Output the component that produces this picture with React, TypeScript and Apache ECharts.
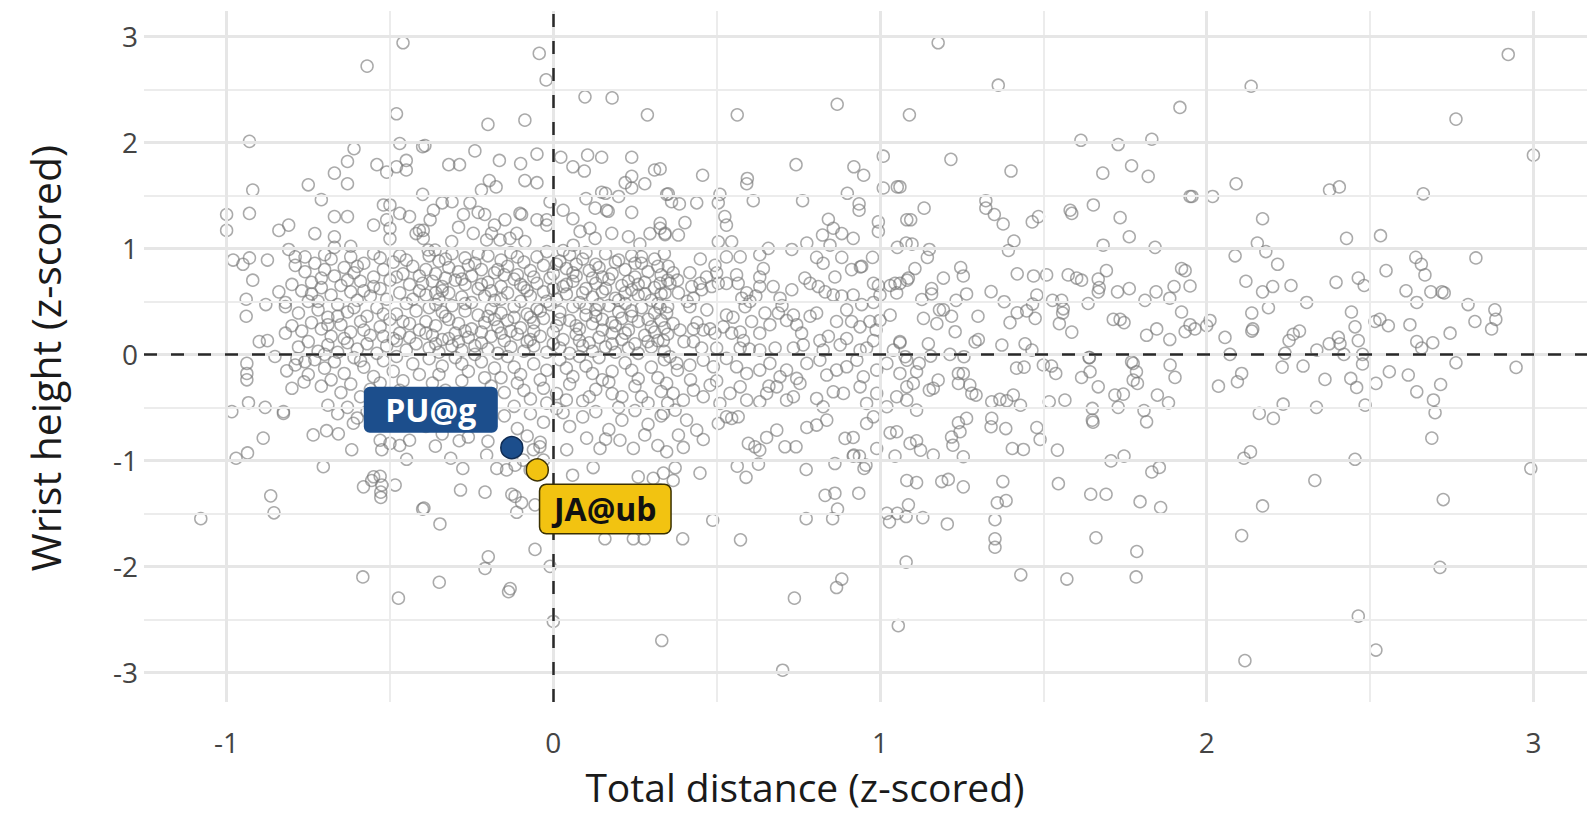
import React, { useEffect, useRef } from "react";
import * as echarts from "echarts";

// ---------- DATA ----------
const xTicks = [-1, 0, 1, 2, 3];
const yTicks = [-3, -2, -1, 0, 1, 2, 3];
const xMinor = [-0.5, 0.5, 1.5, 2.5];
const yMinor = [-2.5, -1.5, -0.5, 0.5, 1.5, 2.5];

const highlightNames = ["PU@g", "JA@ub"];
const highlightX = [-0.127, -0.049];
const highlightY = [-0.88, -1.09];

const upperLeft = [
  [-0.46,2.94],[-0.57,2.72],[-0.48,2.27],[-0.93,2.01],[-0.47,1.99],[-0.40,1.96],[-0.61,1.94],[-0.63,1.82],[-0.54,1.79],[-0.51,1.72],
  [-0.48,1.77],[-0.45,1.83],[-0.45,1.74],[-0.67,1.71],[-0.63,1.61],[-0.75,1.60],[-0.92,1.55],[-0.40,1.51],[-0.71,1.46],[-1.00,1.32],
  [-1.00,1.17],[-0.93,1.33],[-0.67,1.30],[-0.63,1.30],[-0.52,1.41],[-0.50,1.41],[-0.47,1.33],[-0.44,1.30],[-0.84,1.17],[-0.81,1.22],
  [-0.73,1.14],[-0.67,1.11],[-0.55,1.22],[-0.51,1.27],[-0.50,1.19],[-0.50,1.09],[-0.42,1.14],[-0.41,1.17],[-0.81,0.99],[-0.79,0.92],
  [-0.67,1.01],[-0.62,1.02],[-0.98,0.89],[-0.95,0.85],[-0.93,0.91],[-0.875,0.89],[-0.92,0.70],[-0.94,0.52],[-0.94,0.36],[-0.88,0.47],
  [-0.84,0.59],[-0.82,0.49],[-0.82,0.20],[-0.90,0.12],[-0.875,0.13]
];

const upperMid = [
  [-0.043,2.84],[-0.022,2.59],[0.097,2.43],[0.18,2.42],[0.288,2.26],[-0.20,2.17],[-0.087,2.21],[-0.393,1.97],[-0.24,1.92],[-0.32,1.79],
  [-0.287,1.79],[-0.165,1.83],[-0.10,1.80],[-0.05,1.89],[-0.087,1.64],[-0.05,1.62],[-0.196,1.64],[-0.175,1.58],[-0.22,1.55],[0.023,1.86],
  [0.06,1.77],[0.095,1.73],[0.105,1.88],[0.148,1.86],[0.24,1.86],[0.31,1.74],[0.24,1.68],[0.24,1.57],[0.22,1.62],[0.28,1.61],
  [0.10,1.47],[0.148,1.53],[0.16,1.52],[0.20,1.49],[-0.01,1.44],[0.03,1.36],[0.06,1.28],[0.128,1.38],[0.163,1.36],[0.168,1.35],
  [0.24,1.34],[0.347,1.51],[-0.31,1.44],[-0.34,1.43],[-0.367,1.36],[-0.377,1.27],[-0.255,1.43],[-0.23,1.34],[-0.21,1.32],[-0.275,1.32],
  [-0.29,1.20],[-0.102,1.33],[-0.097,1.32],[-0.148,1.27],[-0.18,1.22],[-0.05,1.27],[-0.02,1.27],[-0.02,1.22],[-0.398,1.17],[-0.398,1.095],
  [-0.362,0.985],[-0.383,0.985],[-0.311,1.064],[-0.245,1.142],[-0.204,1.079],[-0.189,1.142],[-0.163,1.079],[-0.133,1.095],[-0.112,1.142],[-0.087,1.064],
  [0.082,1.16],[0.112,1.19],[0.128,1.095],[0.179,1.142],[0.23,1.11],[0.296,1.14],[0.327,1.19],[0.342,1.13],[0.265,1.04],[0.061,1.03]
];

const upperRightMid = [
  [0.563,2.26],[0.869,2.36],[1.09,2.26],[0.743,1.79],[1.01,1.87],[0.92,1.77],[0.95,1.69],[0.457,1.69],[0.594,1.66],[0.592,1.61],
  [0.327,1.75],[0.352,1.515],[0.362,1.44],[0.386,1.42],[0.439,1.43],[0.505,1.43],[0.51,1.51],[0.612,1.45],[0.763,1.45],[0.90,1.52],
  [0.936,1.42],[0.936,1.36],[1.01,1.57],[1.053,1.58],[1.082,1.27],[0.327,1.236],[0.342,1.142],[0.383,1.126],[0.403,1.243],[0.525,1.30],
  [0.53,1.22],[0.505,1.063],[0.546,1.063],[0.572,0.92],[0.842,1.275],[0.857,1.19],[0.883,1.14],[0.918,1.095],[0.824,1.126],[0.847,1.03],
  [0.995,1.25],[0.995,1.16],[1.053,1.01],[1.08,1.05],[0.632,0.94],[0.658,1.0],[0.73,0.99],[0.776,1.05],[0.806,0.915],[0.826,0.86],
  [0.883,0.915],[0.94,0.825],[0.977,0.915],
  [0.352,0.83],[0.367,0.77],[0.327,0.67],[0.357,0.67],[0.342,0.58],[0.383,0.58],[0.418,0.77],[0.424,0.64],[0.429,0.53],[0.449,0.67],
  [0.454,0.61],[0.469,0.73],[0.485,0.64],[0.495,0.84],[0.50,0.77],[0.505,0.67],[0.53,0.67],[0.53,0.92],[0.561,0.75],[0.566,0.67],
  [0.577,0.53],[0.592,0.58],[0.602,0.50],[0.587,0.45],[0.632,0.73],[0.632,0.64],[0.643,0.81],[0.673,0.64],[0.73,0.61],[0.694,0.53],
  [0.77,0.72],[0.786,0.67],[0.811,0.64],[0.832,0.59],[0.862,0.73],[0.857,0.56],[0.883,0.55],[0.913,0.80],[0.944,0.83],[0.918,0.56],
  [0.944,0.47],[0.98,0.67],[0.995,0.65],[1.031,0.65],[1.046,0.67],[1.051,0.58],[1.0,0.56],[0.98,0.49],[1.087,0.72],
  [0.327,0.44],[0.347,0.39],[0.418,0.45],[0.367,0.29],[0.388,0.23],[0.429,0.24],[0.459,0.23],[0.48,0.24],[0.495,0.20],[0.52,0.26],
  [0.53,0.37],[0.546,0.20],[0.572,0.21],[0.582,0.13],[0.607,0.31],[0.632,0.20],[0.648,0.39],[0.663,0.28],[0.689,0.39],[0.714,0.32],
  [0.735,0.37],[0.745,0.28],[0.76,0.20],[0.786,0.36],[0.806,0.39],[0.816,0.13],[0.842,0.17],[0.867,0.31],[0.898,0.42],[0.913,0.31],
  [0.939,0.26],[0.969,0.31],[0.988,0.23],[1.0,0.32],[1.031,0.37],[1.061,0.12],[0.878,0.09],[0.898,0.15],[0.337,0.13],[0.429,0.12],
  [0.454,0.06],[0.50,0.06],[0.572,0.06],[0.632,0.04],[0.679,0.06],[0.735,0.06],[0.765,0.09],[0.826,0.04],[0.939,0.04],[0.98,0.13],
  [0.959,0.06],[1.041,0.04]
];

const upperRight = [
  [1.178,2.94],[1.362,2.54],[1.217,1.84],[1.401,1.73],[1.061,1.58],[1.135,1.38],[1.094,1.27],[1.324,1.45],[1.324,1.38],[1.35,1.32],
  [1.377,1.23],[1.466,1.25],[1.485,1.30],[1.41,1.07],[1.393,0.98],[1.098,1.04],[1.151,0.99],[1.145,0.915],[1.107,0.81],[1.083,0.70],
  [1.061,0.67],[1.247,0.82],[1.255,0.74],[1.194,0.72],[1.158,0.62],[1.158,0.57],[1.128,0.518],[1.133,0.34],[1.174,0.29],[1.182,0.42],
  [1.194,0.42],[1.219,0.36],[1.233,0.51],[1.265,0.57],[1.23,0.214],[1.30,0.36],[1.34,0.592],[1.38,0.497],[1.42,0.76],[1.47,0.74],
  [1.51,0.75],[1.48,0.56],[1.467,0.475],[1.42,0.393],[1.449,0.41],[1.475,0.34],[1.398,0.30],[1.291,0.118],[1.301,0.14],[1.373,0.088],
  [1.444,0.10],[1.465,0.04],[1.148,0.10],[1.061,0.11],[1.214,0.0],[1.528,0.51],[1.556,0.51],[1.561,0.43],[1.559,0.39],[1.549,0.29],
  [1.587,0.21],[1.576,0.75],[1.602,0.72],[1.617,0.70],[1.582,1.36],[1.587,1.33],[1.615,2.02],[1.729,1.98],[1.682,1.71],[1.77,1.78],
  [1.653,1.41],[1.735,1.29],[1.763,1.11],[1.683,1.03],[1.693,0.79],[1.668,0.71],[1.671,0.63],[1.668,0.59],[1.637,0.48],[1.727,0.59],
  [1.763,0.62],[1.714,0.33],[1.735,0.33],[1.747,0.30],[1.64,-0.03],[1.77,-0.07],
  [2.136,2.53],[1.918,2.33],[1.832,2.03],[1.821,1.68],[1.949,1.49],[1.955,1.49],[2.018,1.49],[2.09,1.61],[2.376,1.55],[2.406,1.58],
  [2.171,1.28],[2.428,1.095],[2.532,1.12],[1.842,1.01],[2.155,1.05],[2.181,0.97],[2.217,0.85],[2.087,0.93],[1.923,0.81],[1.934,0.79],
  [1.949,0.645],[1.90,0.64],[1.887,0.53],[1.845,0.59],[1.811,0.51],[2.12,0.69],[2.171,0.59],[2.202,0.64],[2.189,0.44],[2.138,0.39],
  [2.138,0.22],[2.141,0.24],[2.258,0.65],[2.306,0.49],[2.396,0.68],[2.464,0.72],[2.482,0.65],[2.443,0.40],[2.454,0.26],[2.464,0.13],
  [2.515,0.31],[2.556,0.27],[2.549,0.79],[1.923,0.40],[1.949,0.28],[1.964,0.24],[2.0,0.27],[2.01,0.32],[1.934,0.215],[1.847,0.24],
  [1.816,0.18],[1.887,0.14],[2.056,0.16],[2.252,0.13],[2.265,0.19],[2.284,0.22],[2.24,0.01],[2.071,0.0],[2.337,0.04],[2.375,0.10],
  [2.403,0.16],[2.408,0.10],[2.42,0.0],[2.477,0.0],
  [2.923,2.83],[2.763,2.22],[3.0,1.88],[2.663,1.515],[2.64,0.915],[2.657,0.85],[2.668,0.75],[2.824,0.91],[2.61,0.60],[2.643,0.49],
  [2.686,0.59],[2.72,0.59],[2.727,0.58],[2.8,0.47],[2.882,0.42],[2.885,0.33],[2.872,0.24],[2.821,0.31],[2.622,0.28],[2.643,0.12],
  [2.658,0.06],[2.692,0.11],[2.745,0.20],[2.53,0.33]
];

const lowerLeft = [
  [-1.079,-1.55],[-0.865,-1.335],[-0.855,-1.495],[-0.583,-2.10],[-0.474,-2.30],[-0.40,-1.46],[-0.704,-1.06],[-0.581,-1.25],[-0.55,-1.155],[-0.53,-1.15],
  [-0.525,-1.233],[-0.528,-1.30],[-0.528,-1.35],[-0.484,-1.233],[-0.556,-1.19],[-0.449,-0.99],[-0.617,-0.90],[-0.525,-0.90],[-0.971,-0.98],[-0.936,-0.93],
  [-0.888,-0.79],[-0.984,-0.54],[-0.933,-0.456],[-0.882,-0.50],[-0.826,-0.557],[-0.826,-0.54],[-0.735,-0.76],[-0.694,-0.72],[-0.658,-0.75],[-0.612,-0.65],
  [-0.938,-0.085],[-0.938,-0.18],[-0.938,-0.24],[-0.816,-0.155],[-0.763,-0.26],[-0.852,-0.02],[-0.785,-0.04],[-0.76,-0.07],[-0.53,-0.81],[-0.50,-0.84],
  [-0.47,-0.86],[-0.44,-0.81]
];

const lowerMid = [
  [0.0,-2.52],[-0.01,-2.0],[-0.056,-1.84],[-0.199,-1.91],[-0.209,-2.02],[-0.349,-2.15],[-0.132,-2.21],[-0.137,-2.24],[-0.347,-1.60],[-0.396,-1.45],
  [-0.284,-1.28],[-0.209,-1.30],[-0.127,-1.32],[-0.117,-1.34],[-0.112,-1.49],[-0.097,-1.40],[-0.056,-1.42],[0.158,-1.74],[0.245,-1.74],[0.278,-1.74],
  [0.332,-2.70],[-0.361,-0.866],[-0.314,-0.98],[-0.277,-1.077],[-0.288,-0.815],[-0.204,-0.95],[-0.173,-1.077],[-0.143,-1.09],[-0.117,-1.045],[-0.092,-0.998],
  [-0.071,-1.09],[-0.03,-0.998],[-0.041,-0.872],[-0.061,-0.90],[0.059,-1.14],[0.122,-1.068],[0.041,-0.90],[0.102,-0.79],[0.143,-0.887],[0.204,-0.81],
  [0.245,-0.887],[0.26,-1.156],[0.306,-1.17],[0.337,-1.12]
];

const lowerRightMid = [
  [0.702,-2.98],[0.738,-2.30],[0.867,-2.20],[0.883,-2.12],[1.056,-2.56],[0.573,-1.75],[0.488,-1.565],[0.396,-1.74],[0.774,-1.55],[0.855,-1.55],
  [0.87,-1.46],[0.832,-1.33],[0.862,-1.31],[0.935,-1.31],[0.774,-1.086],[0.862,-1.03],[0.951,-1.077],[0.957,-1.045],[0.937,-0.96],[0.918,-0.96],
  [1.021,-1.50],[1.053,-1.50],[1.08,-1.53],[1.029,-1.58],[1.08,-1.96],[1.082,-1.19],[0.449,-1.12],[0.373,-1.07],[0.563,-1.055],[0.59,-1.16],
  [0.628,-1.036],[0.367,-1.19],[0.327,-1.28],
  [0.357,-0.022],[0.378,-0.085],[0.418,-0.101],[0.459,-0.054],[0.49,-0.117],[0.53,-0.038],[0.561,-0.117],[0.592,-0.18],[0.632,-0.148],[0.663,-0.085],
  [0.694,-0.211],[0.714,-0.148],[0.745,-0.227],[0.776,-0.085],[0.816,-0.054],[0.837,-0.195],[0.867,-0.148],[0.898,-0.117],[0.929,-0.054],[0.949,-0.211],
  [0.99,-0.148],[1.021,-0.085],[1.061,-0.18],[1.082,-0.054],
  [0.347,-0.274],[0.367,-0.368],[0.398,-0.432],[0.429,-0.337],[0.459,-0.40],[0.48,-0.29],[0.51,-0.463],[0.541,-0.368],[0.572,-0.306],[0.592,-0.432],
  [0.632,-0.447],[0.653,-0.368],[0.684,-0.306],[0.714,-0.432],[0.735,-0.40],[0.755,-0.274],[0.806,-0.416],[0.826,-0.494],[0.857,-0.353],[0.888,-0.368],
  [0.939,-0.306],[0.959,-0.463],[0.99,-0.368],[1.021,-0.494],[1.051,-0.40],[1.082,-0.306],
  [0.337,-0.557],[0.373,-0.526],[0.408,-0.62],[0.439,-0.715],[0.459,-0.803],[0.383,-0.762],[0.398,-0.878],[0.347,-0.919],[0.505,-0.652],[0.53,-0.589],
  [0.546,-0.604],[0.566,-0.589],[0.597,-0.84],[0.617,-0.872],[0.632,-0.903],[0.653,-0.784],[0.684,-0.715],[0.709,-0.872],[0.743,-0.872],[0.776,-0.69],
  [0.806,-0.667],[0.837,-0.62],[0.893,-0.793],[0.918,-0.784],[0.92,-0.951],[0.959,-0.652],[0.99,-0.888],[1.031,-0.74],[1.051,-0.73],[1.046,-0.96],
  [0.98,-0.589]
];

const lowerRight = [
  [1.431,-2.08],[1.572,-2.12],[1.784,-2.10],[1.786,-1.86],[1.661,-1.73],[1.352,-1.56],[1.352,-1.74],[1.352,-1.82],[1.206,-1.60],[1.131,-1.54],
  [1.087,-1.42],[1.359,-1.40],[1.386,-1.38],[1.376,-1.20],[1.255,-1.25],[1.189,-1.20],[1.209,-1.18],[1.112,-1.21],[1.546,-1.22],[1.645,-1.32],
  [1.692,-1.32],[1.796,-1.39],[1.405,-0.888],[1.439,-0.897],[1.543,-0.903],[1.49,-0.803],[1.48,-0.69],[1.385,-0.70],[1.34,-0.683],[1.342,-0.604],
  [1.265,-0.604],[1.24,-0.645],[1.245,-0.73],[1.219,-0.78],[1.223,-0.857],[1.255,-0.966],[1.163,-0.95],[1.124,-0.903],[1.092,-0.84],[1.112,-0.815],
  [1.707,-1.005],[1.747,-0.96],[1.65,-0.51],[1.65,-0.62],[1.652,-0.64],[1.729,-0.50],[1.719,-0.384],[1.745,-0.375],[1.808,-0.53],[1.816,-0.636],
  [1.775,-0.085],[1.785,-0.164],[1.788,-0.274],[1.775,-0.243],[1.668,-0.306],[1.617,-0.218],[1.643,-0.164],[1.641,-0.03],[1.518,-0.447],[1.566,-0.432],
  [1.50,-0.10],[1.525,-0.11],[1.538,-0.18],[1.418,-0.13],[1.441,-0.12],[1.408,-0.384],[1.43,-0.48],[1.367,-0.425],[1.388,-0.438],[1.342,-0.447],
  [1.281,-0.368],[1.294,-0.384],[1.275,-0.29],[1.24,-0.18],[1.255,-0.18],[1.24,-0.274],[1.178,-0.243],[1.163,-0.32],[1.151,-0.337],[1.112,-0.526],
  [1.102,-0.274],[1.112,-0.164],[1.12,-0.085],[1.077,-0.022],[1.082,-0.432],[1.155,-0.016],[1.257,-0.022],
  [2.117,-2.89],[2.464,-2.47],[2.518,-2.79],[2.107,-1.71],[2.171,-1.43],[2.331,-1.19],[2.454,-0.99],[2.114,-0.98],[2.134,-0.92],[1.832,-1.11],
  [1.855,-1.067],[1.859,-1.445],[1.849,-0.384],[1.883,-0.457],[1.888,-0.10],[1.903,-0.217],[2.036,-0.30],[2.094,-0.258],[2.107,-0.18],[2.161,-0.557],
  [2.204,-0.604],[2.234,-0.47],[2.231,-0.12],[2.295,-0.11],[2.336,-0.50],[2.362,-0.236],[2.441,-0.227],[2.459,-0.312],[2.477,-0.091],[2.485,-0.479],
  [2.518,-0.274],[2.559,-0.164],
  [2.992,-1.077],[2.724,-1.37],[2.714,-2.01],[2.689,-0.79],[2.699,-0.55],[2.694,-0.43],[2.716,-0.284],[2.643,-0.353],[2.617,-0.195],[2.763,-0.079],
  [2.947,-0.123]
];

const coreUpperLeft = [
  [-0.79,0.84],[-0.76,0.78],[-0.73,0.86],[-0.7,0.8],[-0.67,0.74],[-0.64,0.82],[-0.61,0.77],[-0.58,0.86],[-0.55,0.73],[-0.52,0.8],
  [-0.49,0.87],[-0.46,0.76],[-0.43,0.83],[-0.41,0.74],[-0.8,0.66],[-0.77,0.6],[-0.74,0.68],[-0.71,0.63],[-0.68,0.56],[-0.65,0.65],
  [-0.62,0.59],[-0.59,0.69],[-0.56,0.55],[-0.53,0.62],[-0.5,0.7],[-0.47,0.58],[-0.44,0.66],[-0.41,0.6],[-0.82,0.45],[-0.78,0.39],
  [-0.75,0.5],[-0.72,0.42],[-0.69,0.35],[-0.66,0.47],[-0.63,0.4],[-0.6,0.51],[-0.57,0.36],[-0.54,0.44],[-0.51,0.52],[-0.48,0.38],
  [-0.45,0.48],[-0.42,0.41],[-0.8,0.27],[-0.77,0.22],[-0.74,0.3],[-0.71,0.24],[-0.68,0.17],[-0.65,0.28],[-0.62,0.21],[-0.59,0.31],
  [-0.56,0.18],[-0.53,0.26],[-0.5,0.33],[-0.47,0.2],[-0.44,0.29],[-0.41,0.23],[-0.78,0.07],[-0.75,0.12],[-0.72,0.03],[-0.69,0.09],
  [-0.66,0.02],[-0.63,0.11],[-0.6,0.05],[-0.57,0.1],[-0.54,0.01],[-0.51,0.08],[-0.48,0.13],[-0.45,0.04],[-0.42,0.1],[-0.76,0.92],
  [-0.7,0.94],[-0.62,0.92],[-0.55,0.95],[-0.47,0.93],[-0.66,0.36],[-0.58,0.6],[-0.49,0.15],[-0.71,0.72]
];

const coreLowerLeft = [
  [-0.73,-0.05],[-0.7,-0.13],[-0.67,-0.07],[-0.64,-0.18],[-0.61,-0.03],[-0.58,-0.12],[-0.55,-0.21],[-0.52,-0.06],[-0.49,-0.16],[-0.46,-0.25],
  [-0.43,-0.09],[-0.41,-0.19],[-0.71,-0.3],[-0.68,-0.24],[-0.65,-0.36],[-0.62,-0.28],[-0.59,-0.4],[-0.56,-0.33],[-0.53,-0.27],[-0.5,-0.42],
  [-0.47,-0.34],[-0.44,-0.46],[-0.41,-0.38],[-0.69,-0.48],[-0.66,-0.56],[-0.63,-0.5],[-0.6,-0.6],[-0.57,-0.54],[-0.47,-0.62],[-0.42,-0.56],
  [-0.39,-0.68],[-0.79,-0.1],[-0.75,-0.19],[-0.8,-0.32]
];

const coreUpperMid = [
  [-0.38,0.93],[-0.35,0.88],[-0.31,0.95],[-0.27,0.91],[-0.24,0.86],[-0.2,0.93],[-0.16,0.89],[-0.13,0.96],[-0.09,0.87],[-0.05,0.92],
  [-0.02,0.97],[0.02,0.88],[0.05,0.94],[0.09,0.9],[0.13,0.85],[0.16,0.95],[0.2,0.89],[0.24,0.93],[0.27,0.86],[0.31,0.9],[0.34,0.95],
  [-0.39,0.8],[-0.36,0.76],[-0.32,0.82],[-0.29,0.78],[-0.25,0.74],[-0.22,0.8],[-0.18,0.77],[-0.14,0.83],[-0.11,0.75],[-0.07,0.79],
  [-0.03,0.84],[0.0,0.76],[0.04,0.81],[0.07,0.74],[0.11,0.79],[0.14,0.82],[0.18,0.76],[0.22,0.8],[0.25,0.73],[0.29,0.78],[0.32,0.83],
  [-0.37,0.69],[-0.34,0.64],[-0.3,0.7],[-0.27,0.66],[-0.23,0.62],[-0.2,0.68],[-0.16,0.64],[-0.12,0.71],[-0.09,0.63],[-0.05,0.67],
  [-0.01,0.72],[0.03,0.64],[0.06,0.69],[0.1,0.62],[0.13,0.67],[0.17,0.71],[0.21,0.65],[0.24,0.61],[0.28,0.68],[0.31,0.63],[0.35,0.7],
  [-0.39,0.56],[-0.35,0.52],[-0.32,0.58],[-0.28,0.54],[-0.25,0.49],[-0.21,0.55],[-0.18,0.51],[-0.14,0.58],[-0.1,0.5],[-0.07,0.55],
  [-0.03,0.59],[0.01,0.52],[0.04,0.57],[0.08,0.49],[0.12,0.54],[0.15,0.59],[0.19,0.53],[0.22,0.48],[0.26,0.56],[0.3,0.51],[0.33,0.57],
  [-0.38,0.44],[-0.34,0.4],[-0.31,0.46],[-0.27,0.41],[-0.23,0.37],[-0.19,0.43],[-0.16,0.39],[-0.12,0.45],[-0.08,0.38],[-0.05,0.43],
  [-0.01,0.47],[0.02,0.4],[0.06,0.45],[0.1,0.37],[0.13,0.42],[0.17,0.46],[0.2,0.4],[0.24,0.36],[0.27,0.44],[0.31,0.39],[0.35,0.45],
  [-0.39,0.31],[-0.36,0.27],[-0.32,0.33],[-0.29,0.29],[-0.25,0.24],[-0.21,0.3],[-0.17,0.26],[-0.14,0.32],[-0.1,0.25],[-0.06,0.3],
  [-0.03,0.34],[0.01,0.27],[0.05,0.32],[0.08,0.24],[0.12,0.29],[0.15,0.33],[0.19,0.27],[0.23,0.23],[0.26,0.31],[0.3,0.26],[0.33,0.32],
  [-0.37,0.18],[-0.34,0.14],[-0.3,0.2],[-0.26,0.16],[-0.22,0.11],[-0.19,0.17],[-0.15,0.13],[-0.11,0.19],[-0.08,0.12],[-0.04,0.17],
  [0.0,0.21],[0.03,0.14],[0.07,0.19],[0.11,0.11],[0.14,0.16],[0.18,0.2],[0.21,0.14],[0.25,0.1],[0.28,0.18],[0.32,0.13],[0.35,0.19],
  [-0.38,0.06],[-0.35,0.02],[-0.31,0.08],[-0.28,0.04],[-0.24,0.0],[-0.2,0.05],[-0.17,0.01],[-0.13,0.07],[-0.09,0.03],[-0.06,0.08],
  [-0.02,0.02],[0.02,0.06],[0.05,0.01],[0.09,0.08],[0.12,0.03],[0.16,0.07],[0.19,0.02],[0.23,0.06],[0.26,0.01],[0.3,0.07],[0.34,0.03],
  [-0.33,0.72],[-0.26,0.84],[-0.19,0.6],[-0.12,0.35],[-0.06,0.22],[0.0,0.62],[0.07,0.85],[0.14,0.47],[0.21,0.34],[0.28,0.57],
  [-0.36,0.47],[-0.22,0.21],[-0.15,0.75],[-0.04,0.41],[0.09,0.58],[0.18,0.1],[0.25,0.86],[0.31,0.21],[-0.29,0.12],[0.03,0.98],
  [-0.1,0.66],[0.12,0.72],[-0.2,0.36],[0.22,0.58]
];

const coreLowerMid = [
  [-0.38,-0.04],[-0.34,-0.11],[-0.3,-0.03],[-0.26,-0.16],[-0.22,-0.07],[-0.18,-0.13],[-0.14,-0.02],[-0.1,-0.19],[-0.06,-0.09],[-0.02,-0.15],
  [0.02,-0.05],[0.06,-0.21],[0.1,-0.11],[0.14,-0.03],[0.18,-0.16],[0.22,-0.08],[0.26,-0.23],[0.3,-0.12],[0.34,-0.05],
  [-0.37,-0.27],[-0.33,-0.34],[-0.28,-0.25],[-0.23,-0.39],[-0.19,-0.3],[-0.15,-0.36],[-0.11,-0.27],[-0.07,-0.42],[-0.03,-0.32],[0.01,-0.37],
  [0.05,-0.28],[0.09,-0.44],[0.13,-0.33],[0.17,-0.26],[0.21,-0.4],[0.25,-0.3],[0.29,-0.46],[0.33,-0.35],
  [-0.36,-0.52],[-0.31,-0.6],[-0.25,-0.55],[-0.2,-0.66],[-0.15,-0.58],[-0.11,-0.7],[-0.07,-0.56],[-0.03,-0.64],[0.01,-0.51],[0.05,-0.68],
  [0.09,-0.59],[0.13,-0.54],[0.17,-0.71],[0.21,-0.62],[0.25,-0.53],[0.29,-0.66],[0.33,-0.58],
  [-0.34,-0.75],[-0.26,-0.78],[-0.2,-0.82],[-0.08,-0.77],[-0.04,-0.83],[0.16,-0.8],[0.28,-0.76],[0.32,-0.86],
  [-0.24,-0.47],[-0.12,-0.49],[0.04,-0.43],[0.2,-0.5],[0.12,-0.18],[-0.16,-0.22]
];

const coreExtra = [
  [-0.68,0.9],[-0.6,0.83],[-0.53,0.91],[-0.45,0.89],[-0.74,0.57],[-0.63,0.7],[-0.55,0.64],[-0.48,0.73],[-0.4,0.67],[-0.72,0.5],
  [-0.61,0.44],[-0.52,0.38],[-0.43,0.52],[-0.36,0.58],[-0.69,0.28],[-0.58,0.23],[-0.46,0.31],[-0.39,0.2],[-0.64,0.15],[-0.52,0.17],
  [-0.44,0.16],[-0.7,0.0],[-0.59,-0.06],[-0.48,-0.02],[-0.36,0.1],
  [-0.33,0.9],[-0.28,0.71],[-0.23,0.95],[-0.17,0.8],[-0.11,0.92],[-0.06,0.73],[0.01,0.85],[0.06,0.77],[0.1,0.96],[0.15,0.73],
  [0.19,0.87],[0.23,0.69],[0.27,0.92],[0.33,0.75],
  [-0.34,0.6],[-0.27,0.48],[-0.22,0.66],[-0.16,0.52],[-0.08,0.6],[-0.02,0.5],[0.04,0.66],[0.1,0.44],[0.16,0.62],[0.2,0.51],
  [0.26,0.66],[0.32,0.48],
  [-0.33,0.36],[-0.27,0.22],[-0.18,0.33],[-0.13,0.22],[-0.07,0.35],[0.02,0.33],[0.07,0.27],[0.13,0.36],[0.18,0.3],[0.24,0.41],
  [0.29,0.33],[0.34,0.25],
  [-0.32,0.15],[-0.24,0.08],[-0.16,0.2],[-0.07,0.14],[0.0,0.1],[0.08,0.13],[0.15,0.23],[0.22,0.2],[0.29,0.12],
  [-0.35,-0.19],[-0.28,-0.09],[-0.21,-0.22],[-0.12,-0.12],[-0.04,-0.24],[0.04,-0.13],[0.08,-0.02],[0.15,-0.24],[0.24,-0.15],[0.32,-0.22],
  [-0.3,-0.41],[-0.2,-0.44],[-0.09,-0.34],[0.03,-0.55],[0.11,-0.4],[0.18,-0.37],[0.27,-0.4],[0.35,-0.46],[-0.02,-0.46],
  [0.38,0.7],[0.41,0.5],[0.44,0.3],[0.4,0.12],[0.45,0.9],[0.38,-0.15],[0.42,-0.24],[0.47,0.42],[0.55,0.35],[0.62,0.55],
  [0.7,0.46],[0.6,0.05],[0.66,-0.3],[0.5,-0.25]
];

const FONT = "'Open Sans', 'DejaVu Sans', sans-serif";

export default function App() {
  const ref = useRef<HTMLDivElement>(null);

  useEffect(() => {
    if (!ref.current) return;
    const chart = echarts.init(ref.current, undefined, { renderer: "svg" });

    const points = [
      ...upperLeft, ...upperMid, ...upperRightMid, ...upperRight,
      ...lowerLeft, ...lowerMid, ...lowerRightMid, ...lowerRight,
      ...coreUpperLeft, ...coreLowerLeft, ...coreUpperMid, ...coreLowerMid, ...coreExtra,
    ];

    const gridMajor = { color: "#e6e6e6", width: 3, type: "solid" as const };
    const gridMinor = { color: "#ececec", width: 2, type: "solid" as const };
    const gridLines = [
      ...xMinor.map((v) => ({ xAxis: v, lineStyle: gridMinor })),
      ...yMinor.map((v) => ({ yAxis: v, lineStyle: gridMinor })),
      ...xTicks.map((v) => ({ xAxis: v, lineStyle: gridMajor })),
      ...yTicks.map((v) => ({ yAxis: v, lineStyle: gridMajor })),
    ];

    const hlColors = ["#1c4e8c", "#f2c311"];
    const hlBorders = ["#0f2b52", "#3d3205"];
    const hlData = highlightNames.map((n, i) => ({
      name: n,
      value: [highlightX[i], highlightY[i]],
      itemStyle: { color: hlColors[i], borderColor: hlBorders[i], borderWidth: 1.5, opacity: 1 },
      label:
        i === 0
          ? {
              show: true, position: "inside", offset: [-81, -38],
              formatter: "{b}", color: "#ffffff", backgroundColor: "#1c4e8c",
              fontFamily: FONT, fontWeight: "bold", fontSize: 32,
              width: 110, height: 40, lineHeight: 40, align: "center", verticalAlign: "middle",
              padding: [3, 12, 3, 12], borderRadius: 6,
            }
          : {
              show: true, position: "inside", offset: [68, 39],
              formatter: "{b}", color: "#111111", backgroundColor: "#f2c311",
              borderColor: "#3a3000", borderWidth: 1.5,
              fontFamily: FONT, fontWeight: "bold", fontSize: 32,
              width: 106, height: 42, lineHeight: 42, align: "center", verticalAlign: "middle",
              padding: [3, 12, 3, 12], borderRadius: 6,
            },
    }));

    const tickRich = { t: { fontSize: 28, lineHeight: 30, color: "#444444", fontFamily: FONT } };
    const gridLeft = 144;
    const option: any = {
      animation: false,
      backgroundColor: "#ffffff",
      grid: { left: gridLeft, right: 0, top: 11, bottom: 112, containLabel: false },
      xAxis: {
        type: "value", min: (gridLeft - 553.3) / 326.7, max: (1587 - 553.3) / 326.7,
        axisLine: { show: false }, axisTick: { show: false }, splitLine: { show: false },
        axisLabel: {
          customValues: xTicks, fontSize: 28, color: "#444444", fontFamily: FONT, margin: 25,
          formatter: (v: number) => `{t|${v}}`, rich: tickRich,
        },
      },
      yAxis: {
        type: "value", min: -3.28, max: 3.24,
        axisLine: { show: false }, axisTick: { show: false }, splitLine: { show: false },
        axisLabel: {
          customValues: yTicks, fontSize: 28, color: "#444444", fontFamily: FONT, margin: 6,
          formatter: (v: number) => `{t|${v}}`, rich: tickRich,
        },
      },
      graphic: [
        {
          type: "text", x: 805, y: 786, z: 10,
          style: { text: "Total distance (z-scored)", align: "center", verticalAlign: "middle",
            fontSize: 39, lineHeight: 39, fontFamily: FONT, fill: "#1a1a1a" },
        },
        {
          type: "text", x: 45, y: 358, rotation: Math.PI / 2, z: 10,
          style: { text: "Wrist height (z-scored)", align: "center", verticalAlign: "middle",
            fontSize: 41, lineHeight: 41, fontFamily: FONT, fill: "#1a1a1a" },
        },
      ],
      series: [
        {
          type: "scatter", data: [], z: 1, silent: true,
          markLine: { silent: true, symbol: ["none", "none"], label: { show: false }, data: gridLines, animation: false },
        },
        {
          type: "scatter", data: [], z: 2, silent: true,
          markLine: {
            silent: true, symbol: ["none", "none"], label: { show: false }, animation: false,
            lineStyle: { color: "#2a2a2a", width: 2.5, type: [13, 14] },
            data: [{ xAxis: 0 }, { yAxis: 0 }],
          },
        },
        {
          type: "scatter", z: 3, symbol: "circle", symbolSize: 12, silent: true,
          itemStyle: { color: "rgba(255,255,255,0)", borderColor: "rgba(118,118,118,0.62)", borderWidth: 1.5, opacity: 1 },
          data: points,
        },
        {
          type: "scatter", z: 5, symbol: "circle", symbolSize: 22, silent: true,
          itemStyle: { opacity: 1 },
          data: hlData,
        },
      ],
    };

    chart.setOption(option);
    return () => chart.dispose();
  }, []);

  return (
    <div
      ref={ref}
      style={{ position: "fixed", left: 0, top: 0, width: 1587, height: 814, background: "#fff" }}
    />
  );
}
